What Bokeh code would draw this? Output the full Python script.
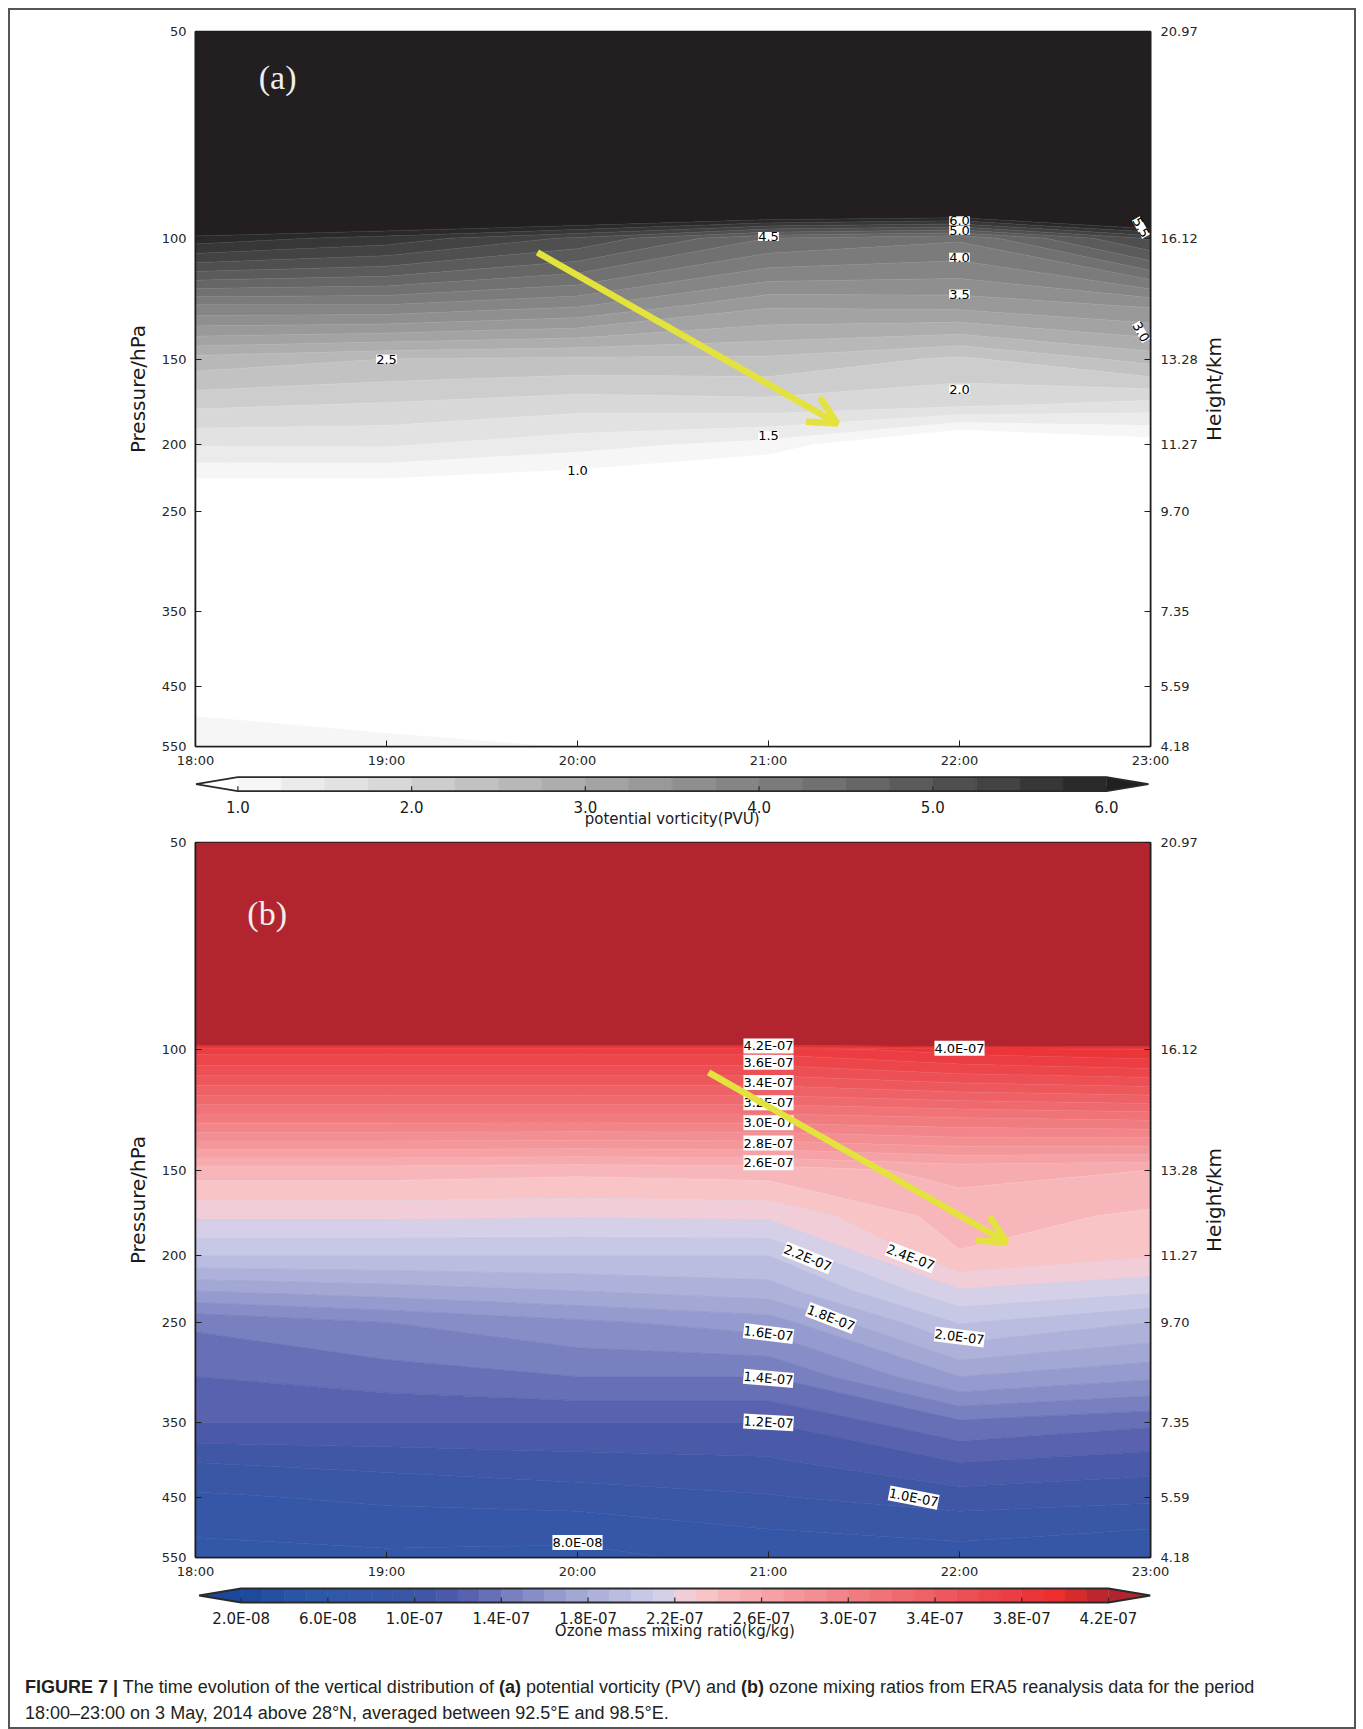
import numpy as np
from bokeh.plotting import figure
from bokeh.models import (Range1d, FixedTicker, LogAxis, ColumnDataSource, LabelSet,
                          Label, Arrow, OpenHead, Div)
from bokeh.layouts import column
from bokeh.embed import file_html
from bokeh.resources import INLINE
from bokeh.core.properties import value

# ------------------------------------------------------------------ data
hours = [18, 19, 20, 21, 22, 23]
time_labels = ["18:00", "19:00", "20:00", "21:00", "22:00", "23:00"]
pressure = [50, 70, 100, 125, 150, 175, 200, 225, 250, 300, 350, 400, 450, 500, 550]
p_ticks = [50, 100, 150, 200, 250, 350, 450, 550]
p_tick_labels = ["50", "100", "150", "200", "250", "350", "450", "550"]
height_labels = ["20.97", "16.12", "13.28", "11.27", "9.70", "7.35", "5.59", "4.18"]

# potential vorticity (PVU) at each pressure level, one list per hour
pv_1800 = [20, 10, 5.9, 4.0, 2.65, 2.05, 1.52, 0.98, 0.85, 0.70, 0.60, 0.65, 0.85, 1.01, 1.12]
pv_1900 = [20, 10, 5.65, 4.0, 2.5, 1.97, 1.53, 0.98, 0.82, 0.68, 0.58, 0.62, 0.80, 0.94, 1.06]
pv_2000 = [20, 11, 5.2, 3.8, 2.45, 1.85, 1.35, 0.85, 0.75, 0.65, 0.55, 0.60, 0.75, 0.88, 0.995]
pv_2100 = [20, 12, 4.5, 3.3, 2.45, 1.9, 1.15, 0.60, 0.55, 0.50, 0.50, 0.55, 0.70, 0.85, 0.90]
pv_2200 = [20, 12, 4.3, 3.35, 2.2, 1.8, 0.50, 0.40, 0.45, 0.45, 0.50, 0.55, 0.65, 0.80, 0.85]
pv_2300 = [20, 12, 5.3, 3.55, 2.6, 1.65, 0.85, 0.50, 0.45, 0.45, 0.50, 0.55, 0.65, 0.80, 0.85]

# ozone mass mixing ratio (1e-7 kg/kg) at each pressure level, one list per hour
o3_1800 = [20, 15, 3.75, 3.08, 2.45, 2.22, 2.0, 1.70, 1.42, 1.30, 1.20, 1.00, 0.88, 0.82, 0.75]
o3_1900 = [20, 15, 3.75, 3.08, 2.45, 2.22, 2.0, 1.75, 1.50, 1.35, 1.20, 1.03, 0.92, 0.84, 0.78]
o3_2000 = [20, 15, 3.75, 3.08, 2.43, 2.21, 2.0, 1.80, 1.58, 1.40, 1.20, 1.06, 0.95, 0.83, 0.775]
o3_2100 = [20, 15, 3.75, 3.08, 2.45, 2.22, 2.0, 1.85, 1.65, 1.40, 1.20, 1.08, 0.99, 0.90, 0.83]
o3_2200 = [20, 15, 3.85, 3.12, 2.53, 2.45, 2.39, 2.19, 2.01, 1.70, 1.38, 1.20, 1.05, 0.93, 0.86]
o3_2300 = [20, 15, 3.90, 3.15, 2.50, 2.38, 2.31, 2.12, 1.90, 1.62, 1.32, 1.15, 1.02, 0.90, 0.83]

pv_levels = [1.0, 1.25, 1.5, 1.75, 2.0, 2.25, 2.5, 2.75, 3.0, 3.25, 3.5, 3.75, 4.0,
             4.25, 4.5, 4.75, 5.0, 5.25, 5.5, 5.75, 6.0]
pv_colors = ["#f6f6f6", "#ebebeb", "#e2e2e2", "#d8d8d8", "#cdcdcd", "#c2c2c2", "#b8b8b8",
             "#adadad", "#a3a3a3", "#999999", "#8f8f8f", "#858585", "#7b7b7b", "#717171",
             "#666666", "#5b5b5b", "#4f4f4f", "#434343", "#373737", "#2a2a2a"]
pv_under, pv_over = "#ffffff", "#231f20"
pv_cbar_ticks = [1.0, 2.0, 3.0, 4.0, 5.0, 6.0]
pv_cbar_labels = ["1.0", "2.0", "3.0", "4.0", "5.0", "6.0"]

o3_levels = [0.2, 0.3, 0.4, 0.5, 0.6, 0.7, 0.8, 0.9, 1.0, 1.1, 1.2, 1.3, 1.4, 1.5, 1.6,
             1.7, 1.8, 1.9, 2.0, 2.1, 2.2, 2.3, 2.4, 2.5, 2.6, 2.7, 2.8, 2.9, 3.0, 3.1,
             3.2, 3.3, 3.4, 3.5, 3.6, 3.7, 3.8, 3.9, 4.0, 4.1, 4.2]
o3_colors = ["#1e4a9e", "#2550a2", "#2a55a6", "#2d57a7", "#3058a8", "#3358a8", "#3657a7",
             "#3a57a6", "#4057a6", "#4a5aa8", "#5862ae", "#6770b6", "#7880c0", "#878ec7",
             "#959bce", "#a2a7d4", "#aeb2da", "#babde0", "#c7c8e5", "#d5cfe7",
             "#f1cdd8", "#f9c4c6", "#f7b6b9", "#f6abae", "#f5a1a5", "#f4979b", "#f38e92",
             "#f28589", "#f17c80", "#f07377", "#ef6a6e", "#ee6166", "#ed585d", "#ec4f54",
             "#ec464b", "#eb3d42", "#eb3539", "#ed2f2f", "#d62a2b", "#bc272e"]
o3_under, o3_over = "#1c479b", "#b2252f"
o3_cbar_ticks = [0.2, 0.6, 1.0, 1.4, 1.8, 2.2, 2.6, 3.0, 3.4, 3.8, 4.2]
o3_cbar_labels = ["2.0E-08", "6.0E-08", "1.0E-07", "1.4E-07", "1.8E-07", "2.2E-07",
                  "2.6E-07", "3.0E-07", "3.4E-07", "3.8E-07", "4.2E-07"]

# contour labels (hour, hPa, text, angle in degrees)
pv_lab_x = [19.0, 20.0, 21.0, 21.0, 22.0, 22.0, 22.0, 22.0, 22.0, 22.95, 22.95]
pv_lab_y = [150, 217.6, 194, 99.4, 97.4, 94.3, 106.6, 120.6, 165.9, 96.5, 137]
pv_lab_t = ["2.5", "1.0", "1.5", "4.5", "5.0", "6.0", "4.0", "3.5", "2.0", "5.5", "3.0"]
pv_lab_a = [0, 0, 0, 0, 0, 0, 0, 0, 0, -60, -60]

o3_lab_x = [21.0, 22.0, 21.0, 21.0, 21.0, 21.0, 21.0, 21.0, 21.205, 21.744, 21.327,
            21.0, 22.0, 21.0, 21.0, 21.76, 20.0]
o3_lab_y = [98.9, 99.7, 104.5, 111.8, 119.7, 128, 137, 146.3, 201.4, 201, 246.3,
            259.5, 262.5, 301.6, 349.6, 450, 523]
o3_lab_t = ["4.2E-07", "4.0E-07", "3.6E-07", "3.4E-07", "3.2E-07", "3.0E-07", "2.8E-07",
            "2.6E-07", "2.2E-07", "2.4E-07", "1.8E-07", "1.6E-07", "2.0E-07", "1.4E-07",
            "1.2E-07", "1.0E-07", "8.0E-08"]
o3_lab_a = [0, 0, 0, 0, 0, 0, 0, 0, -22, -21, -21, -7, -7, -5, -3, -11, 0]

# yellow arrows (hour, hPa)
arrow_a = (19.79, 104.9, 21.36, 186.2)
arrow_b = (20.686, 108.1, 22.247, 191.1)

# ------------------------------------------------------------------ style / layout
W = 1344                 # width of every block
ORIGIN = 10              # page offset of the layout content
BL, BR = 185, 204        # shared frame borders (plot frames are aligned in a column)
FRAME_X0 = ORIGIN + BL
FRAME_X1 = ORIGIN + W - BR
FONT = "DejaVu Sans"
INK = "#1e1e1e"
YEL = "#e4e23c"
BAR_H = 14
EXT_PX = 42
RIGHT_TITLE_START_P = 197.4   # where the upward-reading "Height/km" title begins (hPa)


def panel(z_cols, levels, colors, under, over, labx, laby, labt, laba, arrow, tag, tag_xy,
          height, top):
    p = figure(width=W, height=height, x_range=Range1d(18, 23), y_range=Range1d(550, 50),
               y_axis_type="log", output_backend="svg", toolbar_location=None,
               min_border_left=BL, min_border_right=BR, min_border_top=top,
               min_border_bottom=25)
    p.grid.visible = False
    p.outline_line_color = INK
    p.outline_line_width = 1.6
    p.background_fill_color = "white"

    Z = np.array(z_cols).T
    fills = [under] + colors + [over]
    lines = [fills[0]] + fills[:-1]
    p.contour(x=hours, y=pressure, z=Z, levels=[-1000] + levels + [1000],
              fill_color=fills, line_color=lines, line_width=0.8)

    p.xaxis.ticker = FixedTicker(ticks=hours)
    p.xaxis.major_label_overrides = {float(h): t for h, t in zip(hours, time_labels)}
    p.xaxis.major_label_standoff = 6
    p.yaxis.ticker = FixedTicker(ticks=p_ticks)
    p.yaxis.major_label_overrides = {float(v): t for v, t in zip(p_ticks, p_tick_labels)}
    p.yaxis.axis_label = "Pressure/hPa"
    p.yaxis.major_label_standoff = 9
    p.yaxis.axis_label_standoff = 9

    ra = LogAxis(ticker=FixedTicker(ticks=p_ticks),
                 major_label_overrides={float(v): t for v, t in zip(p_ticks, height_labels)},
                 major_label_standoff=10)
    p.add_layout(ra, "right")

    for ax in p.axis:
        ax.major_tick_in = 6
        ax.major_tick_out = 0
        ax.minor_tick_line_color = None
        ax.axis_line_color = INK
        ax.axis_line_width = 1.6
        ax.major_tick_line_color = INK
        ax.major_label_text_font = FONT
        ax.major_label_text_font_size = "13px"
        ax.major_label_text_color = "#262626"
        ax.axis_label_text_font = FONT
        ax.axis_label_text_font_size = "20px"
        ax.axis_label_text_font_style = "normal"
        ax.axis_label_text_color = "#1a1a1a"

    # upward-reading right-hand title, drawn as the single label of a bare axis
    ta = LogAxis(ticker=FixedTicker(ticks=[RIGHT_TITLE_START_P]),
                 major_label_overrides={RIGHT_TITLE_START_P: "Height/km"},
                 major_label_orientation=np.pi / 2, major_label_standoff=14,
                 axis_line_color=None, major_tick_line_color=None,
                 minor_tick_line_color=None, major_tick_in=0, major_tick_out=0,
                 major_label_text_font=FONT, major_label_text_font_size="20px",
                 major_label_text_color="#1a1a1a")
    p.add_layout(ta, "right")

    src = ColumnDataSource(dict(x=labx, y=laby, text=labt,
                                angle=[np.deg2rad(a) for a in laba]))
    p.add_layout(LabelSet(x="x", y="y", text="text", angle="angle", source=src,
                          text_align="center", text_baseline="middle",
                          text_font=value(FONT), text_font_size="13px", text_color="black",
                          background_fill_color="white"))

    x0, y0, x1, y1 = arrow
    p.add_layout(Arrow(end=OpenHead(size=28, line_color=YEL, line_width=6.5),
                       x_start=x0, y_start=y0, x_end=x1, y_end=y1,
                       line_color=YEL, line_width=6.5))

    p.add_layout(Label(x=tag_xy[0], y=tag_xy[1], text=tag, text_align="center",
                       text_baseline="middle", text_font="Liberation Serif",
                       text_font_size="34px", text_color="#eeeeee"))
    return p


def cbar(levels, colors, under, over, ticks, labels, title, x0_px, x1_px,
         bar_top_px, fig_top_px, fig_h, lab_dy, title_dy):
    lv0, lvN = levels[0], levels[-1]
    scale = (x1_px - x0_px) / (lvN - lv0)
    start = lv0 - (x0_px - FRAME_X0) / scale
    end = lvN + (FRAME_X1 - x1_px) / scale
    ext = EXT_PX / scale
    ytop = BAR_H + (bar_top_px - fig_top_px)
    c = figure(width=W, height=fig_h, x_range=Range1d(start, end),
               y_range=Range1d(ytop - fig_h, ytop), output_backend="svg",
               toolbar_location=None, min_border_left=BL, min_border_right=BR,
               min_border_top=0, min_border_bottom=0, x_axis_location=None,
               y_axis_location=None)
    c.grid.visible = False
    c.outline_line_color = None
    c.quad(left=levels[:-1], right=levels[1:], bottom=0, top=BAR_H,
           fill_color=colors, line_color=colors, line_width=0.6)
    c.patches(xs=[[lv0, lv0 - ext, lv0], [lvN, lvN + ext, lvN]],
              ys=[[0, BAR_H / 2, BAR_H], [0, BAR_H / 2, BAR_H]],
              fill_color=[under, over], line_color=None)
    c.line(x=[lv0, lvN, lvN + ext, lvN, lv0, lv0 - ext, lv0],
           y=[0, 0, BAR_H / 2, BAR_H, BAR_H, BAR_H / 2, 0],
           line_color="#2a2a2a", line_width=1.8)
    c.segment(x0=ticks, y0=[0] * len(ticks), x1=ticks, y1=[5] * len(ticks),
              line_color="#2a2a2a", line_width=1.2)
    c.text(x=ticks, y=[-lab_dy] * len(ticks), text=labels, text_align="center",
           text_baseline="middle", text_font=value(FONT), text_font_size="15px",
           text_color="#1a1a1a")
    c.text(x=[(lv0 + lvN) / 2], y=[-title_dy], text=[title], text_align="center",
           text_baseline="middle", text_font=value(FONT), text_font_size="15px",
           text_color="#1a1a1a")
    return c


pv_cols = [pv_1800, pv_1900, pv_2000, pv_2100, pv_2200, pv_2300]
o3_cols = [o3_1800, o3_1900, o3_2000, o3_2100, o3_2200, o3_2300]

figA = panel(pv_cols, pv_levels, pv_colors, pv_under, pv_over,
             pv_lab_x, pv_lab_y, pv_lab_t, pv_lab_a, arrow_a, "(a)", (18.43, 58.4),
             height=761, top=21)
cbA = cbar(pv_levels, pv_colors, pv_under, pv_over, pv_cbar_ticks, pv_cbar_labels,
           "potential vorticity(PVU)", 237.4, 1106.0, 776.7, 771, 61, 15.3, 27.3)
figB = panel(o3_cols, o3_levels, o3_colors, o3_under, o3_over,
             o3_lab_x, o3_lab_y, o3_lab_t, o3_lab_a, arrow_b, "(b)", (18.375, 63.4),
             height=750, top=10)
cbB = cbar(o3_levels, o3_colors, o3_under, o3_over, o3_cbar_ticks, o3_cbar_labels,
           "Ozone mass mixing ratio(kg/kg)", 240.6, 1108.0, 1588, 1582, 60, 16.5, 28.5)

caption = Div(width=W, height=85, text=(
    '<div style="padding:28px 0 0 10px; font-family:\'Liberation Sans\', Arial, sans-serif;'
    ' font-size:18px; line-height:25.6px; color:#231f20; white-space:nowrap;">'
    '<b>FIGURE 7 |</b> The time evolution of the vertical distribution of <b>(a)</b> '
    'potential vorticity (PV) and <b>(b)</b> ozone mixing ratios from ERA5 reanalysis '
    'data for the period<br>18:00\u201323:00 on 3 May, 2014 above 28\u00b0N, averaged '
    'between 92.5\u00b0E and 98.5\u00b0E.</div>'))

layout = column(figA, cbA, figB, cbB, caption, width=W, height=761 + 61 + 750 + 60 + 85,
                styles={"margin-left": f"{ORIGIN}px", "margin-top": f"{ORIGIN}px",
                        "outline": "2px solid #555555"})

open("out.html", "w").write(file_html(layout, INLINE))
